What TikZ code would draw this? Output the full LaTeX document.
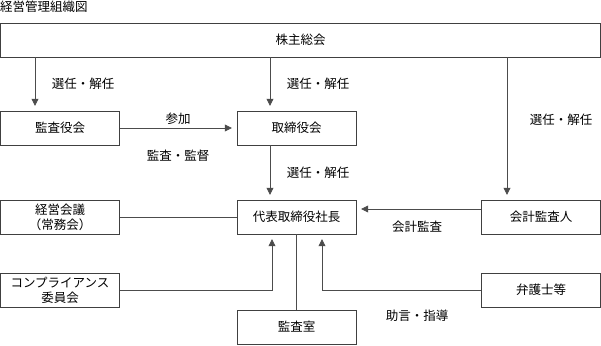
\documentclass[tikz,border=0pt]{standalone}
\usepackage{fontspec}
\newfontfamily\jpfont{Noto Sans CJK JP}
\usetikzlibrary{arrows.meta}

\begin{document}
\begin{tikzpicture}[x=1pt, y=-1pt,
    font=\jpfont\fontsize{12.5}{15}\selectfont,
    box/.style={draw=black!75, rectangle, minimum width=119pt, minimum height=34pt, align=center, inner sep=1pt},
    link/.style={draw=black!70, line width=0.7pt},
    arr/.style={link, -{Triangle[width=7pt,length=7pt]}, shorten >=5pt},
    lbl/.style={inner sep=0pt}]
                \useasboundingbox (0,0) rectangle (601,345);
                % Title
                \node[lbl, anchor=west] (title) at (0,7) {経営管理組織図};

                % Boxes
                \node[box, minimum width=600pt] (agm) at (300.5,40) {株主総会};
                \node[box] (kansa) at (60,128) {監査役会};
                \node[box] (board) at (296.5,128) {取締役会};
                \node[box] (ceo) at (296.5,217) {代表取締役社長};
                \node[box] (keiei) at (60,217) {経営会議\\（常務会）};
                \node[box] (auditor) at (541,217) {会計監査人};
                \node[box] (comp) at (60,290) {コンプライアンス\\委員会};
                \node[box] (lawyer) at (541,290) {弁護士等};
                \node[box] (office) at (296.5,327) {監査室};

                % Reference points for the connectors
                \coordinate (kx) at (35,0);
                \coordinate (bx) at (270,0);
                \coordinate (ax) at (507,0);
                \coordinate (ay) at (0,209);
                \coordinate (cx) at (272,0);
                \coordinate (lx) at (322,0);

                % Connectors
                \draw[arr] (agm.south -| kx) -- (kansa.north -| kx);
                \draw[arr] (agm.south -| bx) -- (board.north -| bx);
                \draw[arr] (agm.south -| ax) -- (auditor.north -| ax);
                \draw[arr] (kansa.east) -- (board.west);
                \draw[arr] (board.south -| bx) -- (ceo.north -| bx);
                \draw[link] (keiei.east) -- (ceo.west);
                \draw[arr] (auditor.west |- ay) -- (ceo.east |- ay);
                \draw[arr] (comp.east) -| (ceo.south -| cx);
                \draw[arr] (lawyer.west) -| (ceo.south -| lx);
                \draw[link] (ceo.south) -- (office.north);

                % Labels
                \node[lbl] (sel1) at (83,84) {選任・解任};
                \node[lbl] (sel2) at (318,84) {選任・解任};
                \node[lbl] (sel3) at (561,120) {選任・解任};
                \node[lbl] (sel4) at (318,173) {選任・解任};
                \node[lbl] (join) at (178,119) {参加};
                \node[lbl] (audit) at (178,156) {監査・監督};
                \node[lbl] (acct) at (417,227) {会計監査};
                \node[lbl] (advice) at (417,316) {助言・指導};
\end{tikzpicture}
\end{document}
